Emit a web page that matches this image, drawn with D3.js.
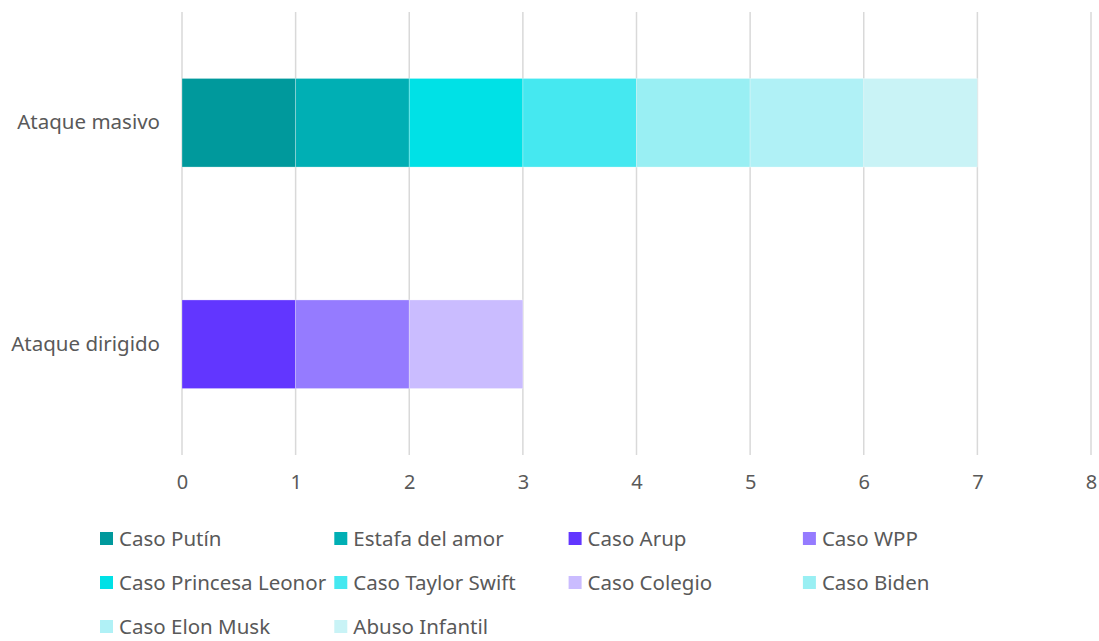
<!DOCTYPE html>
<html>
<head>
<meta charset="utf-8">
<script src="https://cdn.jsdelivr.net/npm/d3@7"></script>
<style>
  body { margin: 0; background: #fff; }
  text { font-family: "Noto Sans", "Liberation Sans", sans-serif; fill: #595959; }
</style>
</head>
<body>
<div id="chart"></div>
<script>
const categories = ['Ataque masivo', 'Ataque dirigido'];
const seriesNames = ['Caso Putín', 'Estafa del amor', 'Caso Arup', 'Caso WPP', 'Caso Princesa Leonor',
    'Caso Taylor Swift', 'Caso Colegio', 'Caso Biden', 'Caso Elon Musk', 'Abuso Infantil'];
// value of each series for [Ataque masivo, Ataque dirigido]
const masivoValues = [1, 1, 0, 0, 1, 1, 0, 1, 1, 1];
const dirigidoValues = [0, 0, 1, 1, 0, 0, 1, 0, 0, 0];
const seriesColors = ['#00999c', '#00afb4', '#6236ff', '#957bff', '#00e1e6',
    '#45e8f0', '#cabcff', '#99eff3', '#b0f1f6', '#c9f3f6'];
const xTicks = [0, 1, 2, 3, 4, 5, 6, 7, 8];

const W = 1099, H = 641;
const plot = {left: 182, right: 1091, top: 12, bottom: 455};

const svg = d3.select('#chart').append('svg').attr('width', W).attr('height', H);

const rows = categories.map((c, i) => {
    const row = {category: c};
    seriesNames.forEach((s, j) => { row[s] = i === 0 ? masivoValues[j] : dirigidoValues[j]; });
    return row;
});

const stacked = d3.stack().keys(seriesNames)(rows);

const x = d3.scaleLinear().domain([0, 8]).range([plot.left, plot.right]);
const y = d3.scaleBand().domain(categories).range([plot.top, plot.bottom]).paddingInner(0.6).paddingOuter(0.3);
const color = d3.scaleOrdinal().domain(seriesNames).range(seriesColors);

// gridlines
svg.append('g').selectAll('line').data(xTicks).enter().append('line')
    .attr('x1', d => x(d)).attr('x2', d => x(d))
    .attr('y1', plot.top).attr('y2', plot.bottom)
    .attr('stroke', '#d9d9d9').attr('stroke-width', 1.5);

// bars
svg.append('g').selectAll('g').data(stacked).enter().append('g')
    .attr('fill', d => color(d.key))
    .selectAll('rect').data(d => d.filter(p => p[1] - p[0] > 0)).enter().append('rect')
    .attr('x', d => x(d[0]))
    .attr('y', d => y(d.data.category))
    .attr('width', d => x(d[1]) - x(d[0]))
    .attr('height', y.bandwidth())
    .attr('stroke', '#ffffff').attr('stroke-opacity', 0.35).attr('stroke-width', 0.8);

// x axis labels
const xAxis = svg.append('g').attr('transform', `translate(0, ${plot.bottom})`)
    .call(d3.axisBottom(x).tickValues(xTicks).tickSize(0).tickPadding(20).tickFormat(d3.format('d')));
xAxis.select('.domain').remove();
xAxis.selectAll('text').style('font-size', '20px').attr('fill', '#595959');

// y axis labels
const yAxis = svg.append('g').attr('transform', `translate(${plot.left}, 0)`)
    .call(d3.axisLeft(y).tickSize(0).tickPadding(22));
yAxis.select('.domain').remove();
yAxis.selectAll('text').style('font-size', '20.5px').attr('fill', '#595959');

// legend
const colW = 234.3;
const legend = svg.append('g').attr('transform', 'translate(100, 539)');
const item = legend.selectAll('g').data(seriesNames).enter().append('g')
    .attr('transform', (d, i) => `translate(${(i % 4) * colW}, ${Math.floor(i / 4) * 44})`);
item.append('rect').attr('x', 0).attr('y', -7).attr('width', 13).attr('height', 13)
    .attr('fill', d => color(d));
item.append('text').attr('x', 19).attr('y', 0).attr('dy', '0.35em')
    .style('font-size', '20.5px').text(d => d);
</script>
</body>
</html>
